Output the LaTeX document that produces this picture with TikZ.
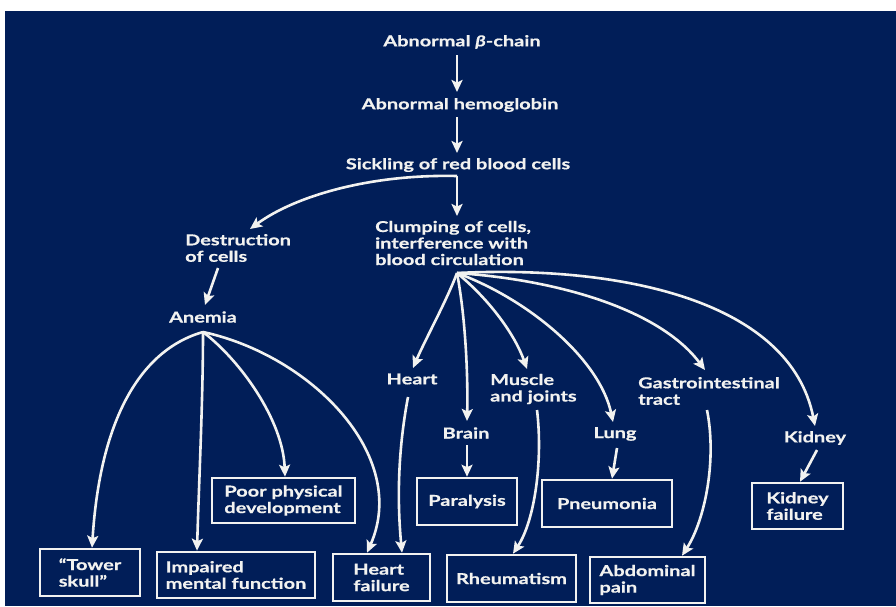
\documentclass[tikz,border=0pt]{standalone}
\usepackage{fontspec}
\newfontfamily\lbl{Lato}[FakeStretch=1.33,FakeBold=0.6,BoldFont={Lato Bold},BoldItalicFont={Lato Bold Italic}]
\usetikzlibrary{arrows.meta}
\definecolor{bg}{RGB}{1,30,88}
\definecolor{fg}{RGB}{242,242,240}
\tikzset{
  lab/.style={text=fg, inner sep=0pt, align=left, font=\lbl\bfseries\fontsize{15}{16.5}\selectfont},
  bx/.style={lab, draw=fg, line width=2.6pt},
  arr/.style={draw=fg, line width=2.6pt, -{Stealth[length=12pt,width=11pt,inset=2.5pt]}}
}
\begin{document}
\begin{tikzpicture}[x=1pt,y=-1pt]
\useasboundingbox (0,0) rectangle (896,606);
\fill[white] (0,0) rectangle (896,606);
\fill[bg] (5,11) rectangle (896,606);
% labels
\node[lab] (beta) at (462,42) {Abnormal {\itshape β}-chain};
\node[lab] (hemo) at (460,105) {Abnormal hemoglobin};
\node[lab] (sickle) at (458,165) {Sickling of red blood cells};
\node[lab, anchor=west] (clump) at (375,243) {Clumping of cells,\\interference with\\blood circulation};
\node[lab, anchor=west] (destr) at (185,248) {Destruction\\of cells};
\node[lab] (anemia) at (203,317) {Anemia};
\node[lab] (heart) at (412,379) {Heart};
\node[lab] (brain) at (466,433) {Brain};
\node[lab, anchor=west] (muscle) at (490,389) {Muscle\\and joints};
\node[lab] (lung) at (615,434) {Lung};
\node[lab, anchor=west] (gi) at (638,391) {Gastrointestinal\\tract};
\node[lab] (kidney) at (815,438) {Kidney};
% boxes
\node[bx, minimum width=100, minimum height=47] (tower) at (90,572.5) {“Tower\\skull”};
\node[bx, minimum width=158, minimum height=46] (impaired) at (236,575) {Impaired\\mental function};
\node[bx, minimum width=143, minimum height=45] (poor) at (283.5,500.5) {Poor physical\\development};
\node[bx, minimum width=97, minimum height=47] (hfail) at (381.5,577.5) {Heart\\failure};
\node[bx, minimum width=100, minimum height=47] (paral) at (467,501.5) {Paralysis};
\node[bx, minimum width=129, minimum height=47] (rheum) at (511.5,578.5) {Rheumatism};
\node[bx, minimum width=130, minimum height=47] (pneu) at (607,503.5) {Pneumonia};
\node[bx, minimum width=115, minimum height=46] (abd) at (647.5,580) {Abdominal\\pain};
\node[bx, minimum width=91, minimum height=46] (kfail) at (797.5,506) {Kidney\\failure};
% main chain
\draw[arr] ([shift={(-5,13)}]beta.center) -- ([shift={(-3,-13)}]hemo.center);
\draw[arr] ([shift={(-3,12)}]hemo.center) -- ([shift={(-1,-12)}]sickle.center);
\draw[arr] ([shift={(-1,11)}]sickle.center) -- ([shift={(82,-27)}]clump.west);
\draw[arr] ([shift={(-1,11)}]sickle.center) .. controls (370,174) and (295,196) .. ([shift={(65,-19)}]destr.west);
\draw[arr] ([shift={(33,20)}]destr.west) -- ([shift={(2,-12)}]anemia.center);
% anemia fan
\coordinate (fa) at ([shift={(0,15)}]anemia.center);
\draw[arr] (fa) .. controls (140,350) and (100,420) .. ([xshift=2pt]tower.north);
\draw[arr] (fa) .. controls (203,400) and (199,480) .. ([xshift=-39pt]impaired.north);
\draw[arr] (fa) .. controls (240,360) and (283,420) .. ([xshift=1.5pt]poor.north);
\draw[arr] (fa) .. controls (310,355) and (410,455) .. ([xshift=-14.5pt]hfail.north);
% clumping fan
\coordinate (fc) at ([shift={(82,30)}]clump.west);
\draw[arr] (fc) .. controls (447,300) and (425,340) .. ([shift={(1,-11)}]heart.center);
\draw[arr] (fc) .. controls (466,320) and (468,380) .. ([shift={(1,-12)}]brain.center);
\draw[arr] (fc) .. controls (490,300) and (515,335) .. ([shift={(37,-20)}]muscle.west);
\draw[arr] (fc) .. controls (530,300) and (600,360) .. ([shift={(-2,-12)}]lung.center);
\draw[arr] (fc) .. controls (560,280) and (660,310) .. ([shift={(67,-21)}]gi.west);
\draw[arr] (fc) .. controls (620,265) and (790,300) .. ([shift={(0,-12)}]kidney.center);
% organ consequences
\draw[arr] ([shift={(-4,18)}]heart.center) .. controls (398,450) and (397,500) .. ([xshift=20.5pt]hfail.north);
\draw[arr] ([shift={(1,12)}]brain.center) -- (paral.north);
\draw[arr] ([shift={(47,21)}]muscle.west) .. controls (543,460) and (535,520) .. ([xshift=1.5pt]rheum.north);
\draw[arr] ([shift={(2,14)}]lung.center) -- ([xshift=5pt]pneu.north);
\draw[arr] ([shift={(69,19)}]gi.west) .. controls (717,460) and (705,520) .. ([xshift=34.5pt]abd.north);
\draw[arr] ([shift={(2,12)}]kidney.center) -- ([xshift=2.5pt]kfail.north);
\end{tikzpicture}
\end{document}
